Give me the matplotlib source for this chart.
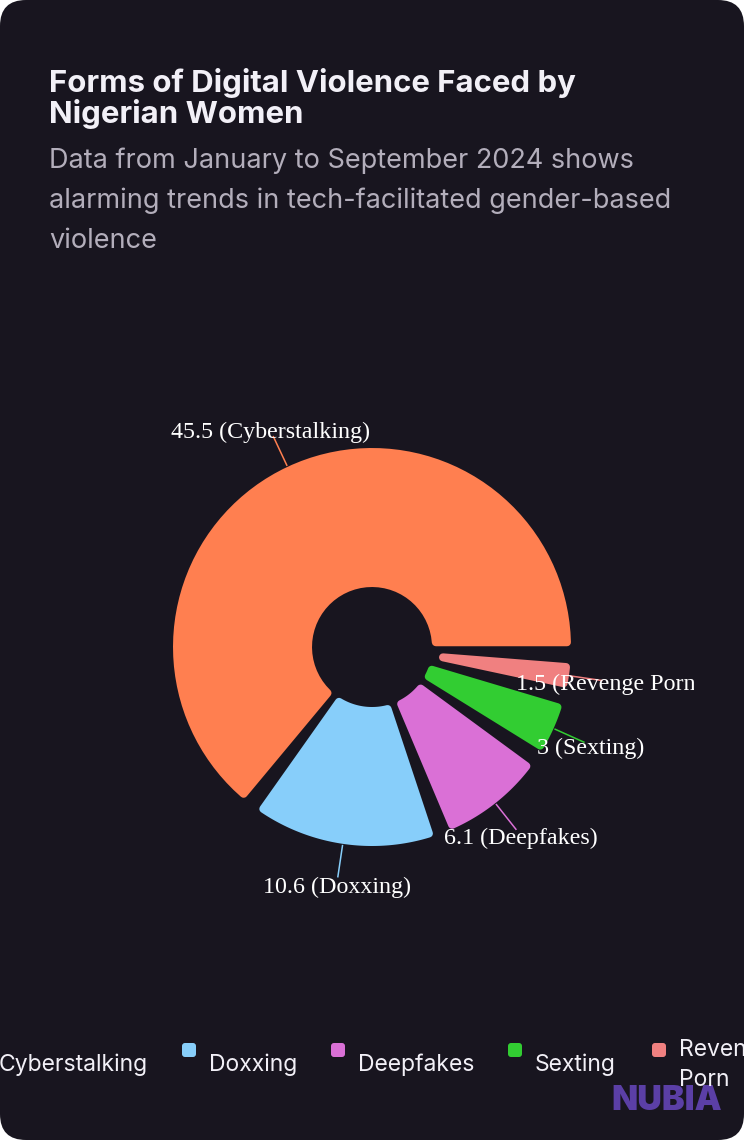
import numpy as np
import matplotlib
matplotlib.use("Agg")
import matplotlib.pyplot as plt
from matplotlib.patches import Polygon, FancyBboxPatch
from matplotlib.transforms import Bbox, TransformedBbox

# data
categories = ["Cyberstalking", "Doxxing", "Deepfakes", "Sexting", "Revenge Porn"]
values = [45.5, 10.6, 6.1, 3, 1.5]
value_labels = ["45.5", "10.6", "6.1", "3", "1.5"]
colors = ["#FF7F50", "#87CEFA", "#DA70D6", "#32CD32", "#F08080"]
legend_labels = ["Cyberstalking", "Doxxing", "Deepfakes", "Sexting", "Revenge\nPorn"]

W, H = 744, 1140
BG = "#18151f"
SANS = ["Inter", "DejaVu Sans"]
SERIF = ["Liberation Serif", "DejaVu Serif"]


def Y(y):
    # image y (top-down) -> axes y (bottom-up)
    return H - y


def sector(cx, cy, a1, a2, ro, ri, d):
    t1, t2 = np.radians(a1), np.radians(a2)
    o1 = t1 + np.arcsin(d / ro)
    o2 = t2 - np.arcsin(d / ro)
    phi = np.linspace(o1, o2, 80)
    pts = list(zip(cx + ro * np.cos(phi), cy + ro * np.sin(phi)))
    i1 = t1 + np.arcsin(d / ri)
    i2 = t2 - np.arcsin(d / ri)
    if i1 < i2:
        phi = np.linspace(i2, i1, 40)
        pts += list(zip(cx + ri * np.cos(phi), cy + ri * np.sin(phi)))
    else:
        half = (t2 - t1) / 2
        rr = d / np.sin(half)
        pts.append((cx + rr * np.cos(t1 + half), cy + rr * np.sin(t1 + half)))
    return pts


fig = plt.figure(figsize=(W / 100, H / 100), dpi=100, facecolor="white")
ax = fig.add_axes([0, 0, 1, 1])

# pie geometry
cx, cy = 372, Y(647)
R, r = 199, 60
pad = 4.5      # angular gap between slices (deg)
k = 4          # corner rounding
gap = 1.5      # extra parallel gap

wedges, _ = ax.pie(values, radius=R, center=(cx, cy), startangle=0,
                   counterclock=True, colors=colors)

ax.set_xlim(0, W)
ax.set_ylim(0, H)
ax.set_aspect("auto")
ax.axis("off")

card = FancyBboxPatch((0, 0), W, H, boxstyle="round,pad=0,rounding_size=26",
                      facecolor=BG, edgecolor="none", zorder=0)
ax.add_patch(card)

scale = (360 - len(values) * pad) / 360
clip = TransformedBbox(Bbox([[0, 0], [694, H]]), ax.transData)
for i, w in enumerate(wedges):
    a1 = w.theta1 * scale + i * pad
    a2 = w.theta2 * scale + i * pad
    w.remove()
    c = colors[i]
    pts = sector(cx, cy, a1, a2, R - k, r + k, k + gap / 2)
    ax.add_patch(Polygon(pts, closed=True, facecolor=c, edgecolor=c,
                         linewidth=2 * k * 0.72, joinstyle="round", zorder=2))

    mid = np.radians((a1 + a2) / 2)
    ax.plot([cx + (R + 1) * np.cos(mid), cx + 233 * np.cos(mid)],
            [cy + (R + 1) * np.sin(mid), cy + 233 * np.sin(mid)],
            color=c, lw=1.1, zorder=3, solid_capstyle="butt")
    t = ax.text(cx + 240 * np.cos(mid), cy + 240 * np.sin(mid) - 3,
                "%s (%s)" % (value_labels[i], categories[i]),
                ha="center", va="center", color="white", fontsize=17.3,
                family=SERIF, zorder=4)
    t.set_clip_box(clip)
    t.set_clip_on(True)

# title and subtitle
ax.text(49, Y(92), "Forms of Digital Violence Faced by", color="#f2f0f7",
        fontsize=22.4, fontweight="bold", family=SANS, va="baseline")
ax.text(49, Y(123), "Nigerian Women", color="#f2f0f7",
        fontsize=22.4, fontweight="bold", family=SANS, va="baseline")
subtitle = ["Data from January to September 2024 shows",
            "alarming trends in tech-facilitated gender-based",
            "violence"]
for j, line in enumerate(subtitle):
    ax.text(49, Y(168 + 40 * j), line, color="#b3aebb", fontsize=19.5,
            family=SANS, va="baseline")

# logo
ax.text(722, Y(1110), "NUBIA", color="#5b3fa6", fontsize=24.5,
        fontweight="black", family=SANS, ha="right", va="baseline", zorder=1)

# legend (overflows the card like the original)
icon_x = [-28, 182, 331, 508, 652]
for i, lab in enumerate(legend_labels):
    ax.add_patch(FancyBboxPatch((icon_x[i], Y(1057)), 14, 14,
                                boxstyle="round,pad=0,rounding_size=3",
                                facecolor=colors[i], edgecolor="none", zorder=3))
    ax.text(icon_x[i] + 27, Y(1065), lab, color="#f2f0f7", fontsize=16.5,
            family=SANS, ha="left", va="center", linespacing=1.45, zorder=4)

fig.savefig("out.png", dpi=100, facecolor="white")
